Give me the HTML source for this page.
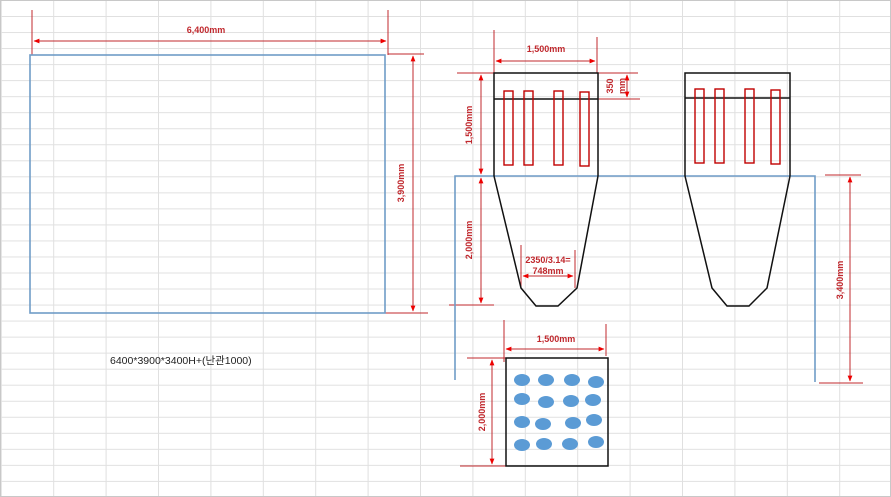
<!DOCTYPE html>
<html><head><meta charset="utf-8"><style>
html,body{margin:0;padding:0;background:#fff}
svg{display:block}
.d{font-family:"Liberation Sans",sans-serif;font-size:9px;font-weight:bold;fill:#c0282d;text-anchor:middle}
</style></head><body>
<svg width="891" height="497" viewBox="0 0 891 497" xmlns="http://www.w3.org/2000/svg">
<defs>
<pattern id="g" x="0.8" y="0" width="52.4" height="16.03" patternUnits="userSpaceOnUse">
<line x1="0.5" y1="0" x2="0.5" y2="16.03" stroke="#e0e0e0" stroke-width="1"/>
<line x1="0" y1="0.5" x2="52.4" y2="0.5" stroke="#e0e0e0" stroke-width="1"/>
</pattern>
<marker id="a" viewBox="0 0 10 10" refX="9" refY="5" markerWidth="6" markerHeight="6" orient="auto-start-reverse"><path d="M0,1 L10,5 L0,9 z" fill="#e00"/></marker>
</defs>
<rect width="891" height="497" fill="#fff"/>
<rect width="891" height="497" fill="url(#g)"/>
<rect x="0.5" y="0.5" width="890" height="496" fill="none" stroke="#c8c8c8"/>

<g stroke="#c0282d" stroke-width="1" fill="none">
<line x1="32" y1="10" x2="32" y2="55"/><line x1="388" y1="10" x2="388" y2="55"/>
<line x1="34" y1="41" x2="386" y2="41" marker-start="url(#a)" marker-end="url(#a)"/>
<line x1="388" y1="54" x2="424" y2="54"/><line x1="385" y1="313" x2="428" y2="313"/>
<line x1="413" y1="56" x2="413" y2="311" marker-start="url(#a)" marker-end="url(#a)"/>
<line x1="494" y1="30" x2="494" y2="73"/><line x1="597" y1="37" x2="597" y2="73"/>
<line x1="496" y1="61" x2="595" y2="61" marker-start="url(#a)" marker-end="url(#a)"/>
<line x1="598" y1="73" x2="638" y2="73"/><line x1="598" y1="99" x2="640" y2="99"/>
<line x1="627" y1="75" x2="627" y2="97" marker-start="url(#a)" marker-end="url(#a)"/>
<line x1="457" y1="73" x2="494" y2="73"/>
<line x1="481" y1="75" x2="481" y2="174" marker-start="url(#a)" marker-end="url(#a)"/>
<line x1="481" y1="178" x2="481" y2="303" marker-start="url(#a)" marker-end="url(#a)"/>
<line x1="449" y1="305" x2="494" y2="305"/>
<line x1="521" y1="245" x2="521" y2="288"/><line x1="575" y1="250" x2="575" y2="288"/>
<line x1="523" y1="276" x2="573" y2="276" marker-start="url(#a)" marker-end="url(#a)"/>
<line x1="825" y1="175" x2="861" y2="175"/><line x1="819" y1="383" x2="863" y2="383"/>
<line x1="850" y1="177" x2="850" y2="381" marker-start="url(#a)" marker-end="url(#a)"/>
<line x1="504" y1="320" x2="504" y2="362"/><line x1="606" y1="324" x2="606" y2="356"/>
<line x1="506" y1="349" x2="604" y2="349" marker-start="url(#a)" marker-end="url(#a)"/>
<line x1="467" y1="358" x2="506" y2="358"/><line x1="460" y1="466" x2="506" y2="466"/>
<line x1="492" y1="360" x2="492" y2="464" marker-start="url(#a)" marker-end="url(#a)"/>
</g>

<g stroke="#6f9cc7" stroke-width="1.6" fill="none">
<rect x="30" y="55" width="355" height="258"/>
<polyline points="455,380 455,176 815,176 815,382"/>
</g>

<g stroke="#111" stroke-width="1.5" fill="none">
<polyline points="494,176 494,73 598,73 598,176"/>
<line x1="494" y1="99" x2="598" y2="99"/>
<polyline points="494,176 521,288 536,306 558,306 577,288 598,176"/>
<polyline points="685,176 685,73 790,73 790,176"/>
<line x1="685" y1="98" x2="790" y2="98"/>
<polyline points="685,176 712,288 727,306 749,306 767,288 790,176"/>
<rect x="506" y="358" width="102" height="108"/>
</g>
<g stroke="#c00000" stroke-width="1.4" fill="none">
<rect x="504" y="91" width="9" height="74"/><rect x="524" y="91" width="9" height="74"/>
<rect x="554" y="91" width="9" height="74"/><rect x="580" y="92" width="9" height="74"/>
<rect x="695" y="89" width="9" height="74"/><rect x="715" y="89" width="9" height="74"/>
<rect x="745" y="89" width="9" height="74"/><rect x="771" y="90" width="9" height="74"/>
</g>

<g fill="#5b9bd5">
<ellipse cx="522" cy="380" rx="8" ry="6"/><ellipse cx="546" cy="380" rx="8" ry="6"/><ellipse cx="572" cy="380" rx="8" ry="6"/><ellipse cx="596" cy="382" rx="8" ry="6"/>
<ellipse cx="522" cy="399" rx="8" ry="6"/><ellipse cx="546" cy="402" rx="8" ry="6"/><ellipse cx="571" cy="401" rx="8" ry="6"/><ellipse cx="593" cy="400" rx="8" ry="6"/>
<ellipse cx="522" cy="422" rx="8" ry="6"/><ellipse cx="543" cy="424" rx="8" ry="6"/><ellipse cx="573" cy="423" rx="8" ry="6"/><ellipse cx="594" cy="420" rx="8" ry="6"/>
<ellipse cx="522" cy="445" rx="8" ry="6"/><ellipse cx="544" cy="444" rx="8" ry="6"/><ellipse cx="570" cy="444" rx="8" ry="6"/><ellipse cx="596" cy="442" rx="8" ry="6"/>
</g>

<text class="d" x="206" y="33">6,400mm</text>
<text class="d" transform="translate(404,183) rotate(-90)">3,900mm</text>
<text class="d" x="546" y="52">1,500mm</text>
<text class="d" transform="translate(613,86) rotate(-90)">350</text>
<text class="d" transform="translate(625,86) rotate(-90)">mm</text>
<text class="d" transform="translate(472,125) rotate(-90)">1,500mm</text>
<text class="d" transform="translate(472,240) rotate(-90)">2,000mm</text>
<text class="d" x="548" y="263">2350/3.14=</text>
<text class="d" x="548" y="274">748mm</text>
<text class="d" transform="translate(843,280) rotate(-90)">3,400mm</text>
<text class="d" x="556" y="342">1,500mm</text>
<text class="d" transform="translate(485,412) rotate(-90)">2,000mm</text>
<text x="110" y="364" font-family="'Liberation Sans','Noto Sans CJK KR',sans-serif" font-size="10.5" fill="#222">6400*3900*3400H+(난관1000)</text>
</svg>
</body></html>
